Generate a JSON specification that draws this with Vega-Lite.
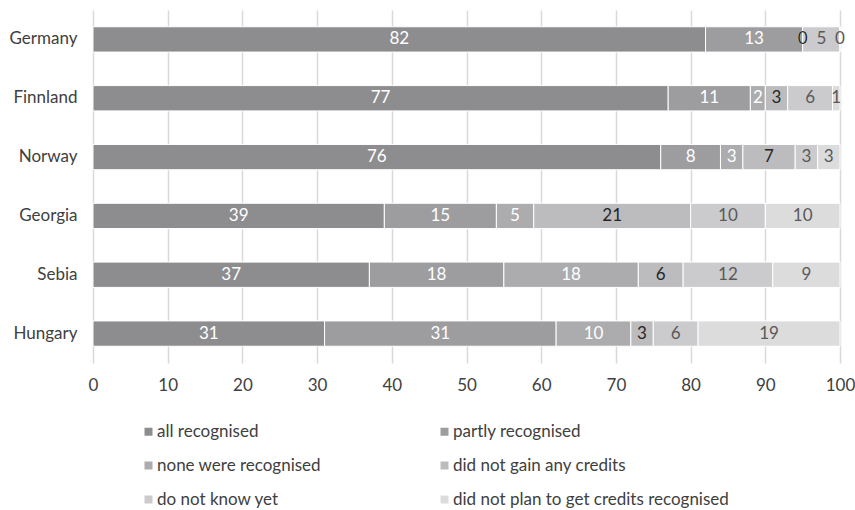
{
  "$schema": "https://vega.github.io/schema/vega-lite/v6.json",
  "width": 747,
  "height": 353,
  "autosize": {"type": "none"},
  "padding": {"left": 93, "top": 10, "right": 15, "bottom": 147},
  "background": "white",
  "config": {"font": "Lato", "view": {"stroke": null}},
  "datasets": {
    "d": [
      {"country": "Germany", "cat": "all recognised", "v": 82},
      {"country": "Germany", "cat": "partly recognised", "v": 13},
      {"country": "Germany", "cat": "none were recognised", "v": 0},
      {"country": "Germany", "cat": "did not gain any credits", "v": 0},
      {"country": "Germany", "cat": "do not know yet", "v": 5},
      {"country": "Germany", "cat": "did not plan to get credits recognised", "v": 0},
      {"country": "Finnland", "cat": "all recognised", "v": 77},
      {"country": "Finnland", "cat": "partly recognised", "v": 11},
      {"country": "Finnland", "cat": "none were recognised", "v": 2},
      {"country": "Finnland", "cat": "did not gain any credits", "v": 3},
      {"country": "Finnland", "cat": "do not know yet", "v": 6},
      {"country": "Finnland", "cat": "did not plan to get credits recognised", "v": 1},
      {"country": "Norway", "cat": "all recognised", "v": 76},
      {"country": "Norway", "cat": "partly recognised", "v": 8},
      {"country": "Norway", "cat": "none were recognised", "v": 3},
      {"country": "Norway", "cat": "did not gain any credits", "v": 7},
      {"country": "Norway", "cat": "do not know yet", "v": 3},
      {"country": "Norway", "cat": "did not plan to get credits recognised", "v": 3},
      {"country": "Georgia", "cat": "all recognised", "v": 39},
      {"country": "Georgia", "cat": "partly recognised", "v": 15},
      {"country": "Georgia", "cat": "none were recognised", "v": 5},
      {"country": "Georgia", "cat": "did not gain any credits", "v": 21},
      {"country": "Georgia", "cat": "do not know yet", "v": 10},
      {"country": "Georgia", "cat": "did not plan to get credits recognised", "v": 10},
      {"country": "Sebia", "cat": "all recognised", "v": 37},
      {"country": "Sebia", "cat": "partly recognised", "v": 18},
      {"country": "Sebia", "cat": "none were recognised", "v": 18},
      {"country": "Sebia", "cat": "did not gain any credits", "v": 6},
      {"country": "Sebia", "cat": "do not know yet", "v": 12},
      {"country": "Sebia", "cat": "did not plan to get credits recognised", "v": 9},
      {"country": "Hungary", "cat": "all recognised", "v": 31},
      {"country": "Hungary", "cat": "partly recognised", "v": 31},
      {"country": "Hungary", "cat": "none were recognised", "v": 10},
      {"country": "Hungary", "cat": "did not gain any credits", "v": 3},
      {"country": "Hungary", "cat": "do not know yet", "v": 6},
      {"country": "Hungary", "cat": "did not plan to get credits recognised", "v": 19}
    ],
    "cats": [
      {"cat": "all recognised", "k": 1},
      {"cat": "partly recognised", "k": 2},
      {"cat": "none were recognised", "k": 3},
      {"cat": "did not gain any credits", "k": 4},
      {"cat": "do not know yet", "k": 5},
      {"cat": "did not plan to get credits recognised", "k": 6}
    ]
  },
  "data": {"name": "d"},
  "transform": [
    {"lookup": "cat", "from": {"data": {"name": "cats"}, "key": "cat", "fields": ["k"]}}
  ],
  "encoding": {
    "y": {
      "field": "country",
      "type": "nominal",
      "sort": ["Germany", "Finnland", "Norway", "Georgia", "Sebia", "Hungary"],
      "title": null,
      "scale": {"paddingInner": 0.57, "paddingOuter": 0.285},
      "axis": {"domain": false, "ticks": false, "grid": false, "labelFontSize": 17, "labelColor": "#404040", "labelPadding": 16}
    },
    "x": {
      "field": "v",
      "type": "quantitative",
      "title": null,
      "scale": {"domain": [0, 100], "nice": false},
      "axis": {
        "values": [0, 10, 20, 30, 40, 50, 60, 70, 80, 90, 100],
        "grid": true,
        "gridColor": "#d9d9d9",
        "gridWidth": 1.5,
        "domain": false,
        "ticks": false,
        "labelFlush": false,
        "labelFontSize": 17,
        "labelColor": "#404040",
        "labelPadding": 14
      }
    }
  },
  "layer": [
    {
      "mark": {"type": "bar", "stroke": "white", "strokeWidth": 1},
      "encoding": {
        "x": {
          "field": "v",
          "type": "quantitative",
          "stack": "zero",
          "title": null,
          "scale": {"domain": [0, 100], "nice": false},
          "axis": {
            "values": [0, 10, 20, 30, 40, 50, 60, 70, 80, 90, 100],
            "grid": true,
            "gridColor": "#d9d9d9",
            "gridWidth": 1.5,
            "domain": false,
            "ticks": false,
            "labelFlush": false,
            "labelFontSize": 17,
            "labelColor": "#404040",
            "labelPadding": 14
          }
        },
        "color": {
          "field": "cat",
          "type": "nominal",
          "scale": {
            "domain": ["all recognised", "partly recognised", "none were recognised", "did not gain any credits", "do not know yet", "did not plan to get credits recognised"],
            "range": ["#8d8d8f", "#9d9d9f", "#acacae", "#bcbcbe", "#cbcbcd", "#dcdcdd"]
          },
          "legend": {
            "title": null,
            "orient": "none",
            "legendX": 47,
            "legendY": 413,
            "direction": "horizontal",
            "columns": 2,
            "symbolType": "square",
            "symbolSize": 64,
            "symbolStrokeWidth": 0,
            "labelFontSize": 17,
            "labelColor": "#404040",
            "labelOffset": 0,
            "labelLimit": 500,
            "rowPadding": 16,
            "columnPadding": 115,
            "padding": 0
          }
        },
        "order": {"field": "k", "type": "quantitative"}
      }
    },
    {
      "transform": [
        {"stack": "v", "groupby": ["country"], "sort": [{"field": "k"}], "as": ["s0", "s1"]},
        {"fold": ["s0", "s1"]},
        {"aggregate": [{"op": "mean", "field": "value", "as": "mid"}], "groupby": ["country", "cat", "v", "k"]}
      ],
      "mark": {"type": "text", "fontSize": 17},
      "encoding": {
        "x": {"field": "mid", "type": "quantitative", "title": null},
        "text": {"field": "v", "type": "quantitative"},
        "color": {
          "field": "cat",
          "type": "nominal",
          "scale": {
            "domain": ["all recognised", "partly recognised", "none were recognised", "did not gain any credits", "do not know yet", "did not plan to get credits recognised"],
            "range": ["#ffffff", "#ffffff", "#ffffff", "#262626", "#595959", "#595959"]
          },
          "legend": null
        }
      }
    }
  ],
  "resolve": {"scale": {"color": "independent"}}
}
